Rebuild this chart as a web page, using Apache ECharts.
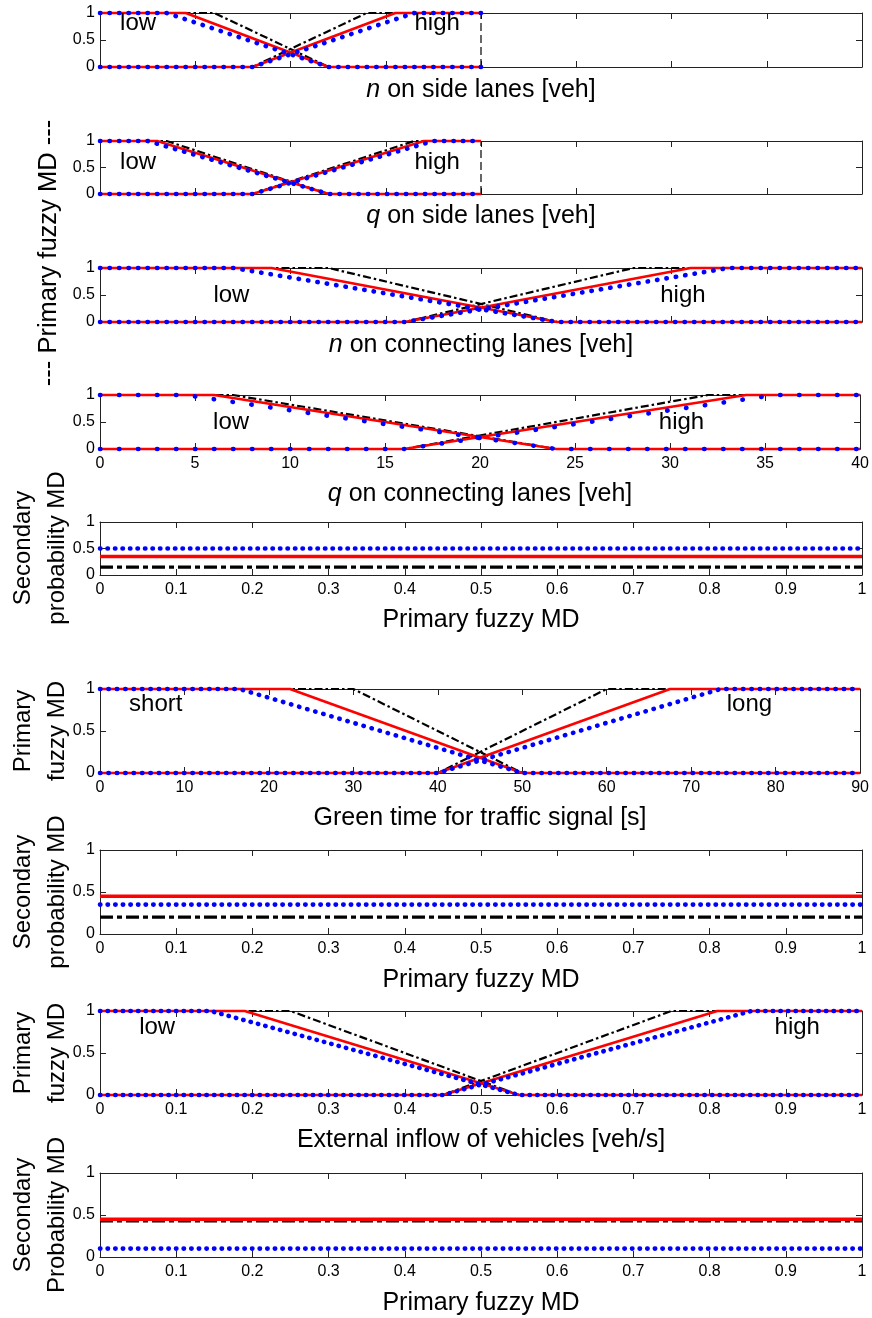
<!DOCTYPE html>
<html>
<head>
<meta charset="utf-8">
<script src="https://cdn.jsdelivr.net/npm/echarts@6/dist/echarts.min.js"></script>
<style>
  html, body { margin: 0; padding: 0; background: #fff; }
  #chart { width: 872px; height: 1318px; }
</style>
</head>
<body>
<div id="chart"></div>
<script>
// ---- membership functions: breakpoints as [x, membership degree] ----
// n on side lanes [veh]
const nSideLowBlack  = [[0, 1], [6, 1], [12, 0], [20, 0]];
const nSideHighBlack = [[0, 0], [8, 0], [14, 1], [20, 1]];
const nSideLowRed    = [[0, 1], [4.5, 1], [12, 0], [20, 0]];
const nSideHighRed   = [[0, 0], [8, 0], [15.5, 1], [20, 1]];
const nSideLowBlue   = [[0, 1], [3.5, 1], [12, 0], [20, 0]];
const nSideHighBlue  = [[0, 0], [8, 0], [16.5, 1], [20, 1]];

// q on side lanes [veh]
const qSideLowBlack  = [[0, 1], [3.5, 1], [12, 0], [20, 0]];
const qSideHighBlack = [[0, 0], [8, 0], [16.5, 1], [20, 1]];
const qSideLowRed    = [[0, 1], [3, 1], [12, 0], [20, 0]];
const qSideHighRed   = [[0, 0], [8, 0], [17, 1], [20, 1]];
const qSideLowBlue   = [[0, 1], [2.5, 1], [12, 0], [20, 0]];
const qSideHighBlue  = [[0, 0], [8, 0], [17.5, 1], [20, 1]];

// n on connecting lanes [veh]
const nConnLowBlack  = [[0, 1], [12, 1], [24, 0], [40, 0]];
const nConnHighBlack = [[0, 0], [16, 0], [28, 1], [40, 1]];
const nConnLowRed    = [[0, 1], [9, 1], [24, 0], [40, 0]];
const nConnHighRed   = [[0, 0], [16, 0], [31, 1], [40, 1]];
const nConnLowBlue   = [[0, 1], [7, 1], [24, 0], [40, 0]];
const nConnHighBlue  = [[0, 0], [16, 0], [33, 1], [40, 1]];

// q on connecting lanes [veh]
const qConnLowBlack  = [[0, 1], [7, 1], [24, 0], [40, 0]];
const qConnHighBlack = [[0, 0], [16, 0], [32, 1], [40, 1]];
const qConnLowRed    = [[0, 1], [6, 1], [24, 0], [40, 0]];
const qConnHighRed   = [[0, 0], [16, 0], [34, 1], [40, 1]];
const qConnLowBlue   = [[0, 1], [4.5, 1], [24, 0], [40, 0]];
const qConnHighBlue  = [[0, 0], [16, 0], [35.5, 1], [40, 1]];

// Green time for traffic signal [s]
const greenShortBlack = [[0, 1], [30, 1], [50, 0], [90, 0]];
const greenLongBlack  = [[0, 0], [40, 0], [60, 1], [90, 1]];
const greenShortRed   = [[0, 1], [22.5, 1], [50, 0], [90, 0]];
const greenLongRed    = [[0, 0], [40, 0], [67.5, 1], [90, 1]];
const greenShortBlue  = [[0, 1], [16.5, 1], [50, 0], [90, 0]];
const greenLongBlue   = [[0, 0], [40, 0], [73.5, 1], [90, 1]];

// External inflow of vehicles [veh/s]
const inflowLowBlack  = [[0, 1], [0.25, 1], [0.55, 0], [1, 0]];
const inflowHighBlack = [[0, 0], [0.45, 0], [0.75, 1], [1, 1]];
const inflowLowRed    = [[0, 1], [0.19, 1], [0.55, 0], [1, 0]];
const inflowHighRed   = [[0, 0], [0.45, 0], [0.81, 1], [1, 1]];
const inflowLowBlue   = [[0, 1], [0.145, 1], [0.55, 0], [1, 0]];
const inflowHighBlue  = [[0, 0], [0.45, 0], [0.855, 1], [1, 1]];

// secondary probability MD levels: [black, red, blue]
const secondaryTraffic = [0.15, 0.35, 0.5];
const secondaryGreen   = [0.2, 0.45, 0.35];
const secondaryInflow  = [0.43, 0.45, 0.1];

// upper end of the side-lane universe
const sideLaneLimit = 20;

// linguistic term labels: [text, x, y]
const nSideTerms   = [['low', 2.0, 0.8], ['high', 17.7, 0.8]];
const qSideTerms   = [['low', 2.0, 0.6], ['high', 17.7, 0.6]];
const nConnTerms   = [['low', 6.9, 0.5], ['high', 30.6, 0.5]];
const qConnTerms   = [['low', 6.9, 0.5], ['high', 30.6, 0.5]];
const greenTerms   = [['short', 6.6, 0.82], ['long', 76.9, 0.82]];
const inflowTerms  = [['low', 0.075, 0.81], ['high', 0.915, 0.81]];

// ---- styling ----
const FONT = '"Liberation Sans", Arial, Helvetica, sans-serif';
const INK = '#000';

function blackStyle(thick) {
  return thick
    ? { color: INK, width: 3.3, type: [13, 4, 5, 4] }
    : { color: INK, width: 2.2, type: [8, 3, 2.5, 3] };
}
function redStyle(thick) {
  return { color: '#ff0000', width: thick ? 3.5 : 2.7, type: 'solid' };
}
function blueStyle(step) {
  return { color: '#0000ff', width: 4.6, type: [0.4, step - 0.4], cap: 'round' };
}

const flat = v => [[0, v], [1, v]];

// ---- panel layout ----
const panels = [
  { top: 13, height: 54, xMax: 40, xInt: 5, labels: false, gap: 11,
    name: '{i|n} on side lanes [veh]', dot: 9.5, thick: false, limit: sideLaneLimit,
    black: [nSideLowBlack, nSideHighBlack], red: [nSideLowRed, nSideHighRed],
    blue: [nSideLowBlue, nSideHighBlue], terms: nSideTerms },
  { top: 141, height: 53, xMax: 40, xInt: 5, labels: false, gap: 10,
    name: '{i|q} on side lanes [veh]', dot: 9.5, thick: false, limit: sideLaneLimit,
    black: [qSideLowBlack, qSideHighBlack], red: [qSideLowRed, qSideHighRed],
    blue: [qSideLowBlue, qSideHighBlue], terms: qSideTerms },
  { top: 268, height: 54, xMax: 40, xInt: 5, labels: false, gap: 11,
    name: '{i|n} on connecting lanes [veh]', dot: 9.5, thick: false,
    black: [nConnLowBlack, nConnHighBlack], red: [nConnLowRed, nConnHighRed],
    blue: [nConnLowBlue, nConnHighBlue], terms: nConnTerms },
  { top: 395, height: 54, xMax: 40, xInt: 5, labels: true, gap: 33,
    name: '{i|q} on connecting lanes [veh]', dot: 19, thick: false,
    black: [qConnLowBlack, qConnHighBlack], red: [qConnLowRed, qConnHighRed],
    blue: [qConnLowBlue, qConnHighBlue], terms: qConnTerms },
  { top: 522, height: 53, xMax: 1, xInt: 0.1, labels: true, gap: 33,
    name: 'Primary fuzzy MD', dot: 7.5, thick: true,
    black: [flat(secondaryTraffic[0])], red: [flat(secondaryTraffic[1])],
    blue: [flat(secondaryTraffic[2])], terms: [] },
  { top: 689, height: 84, xMax: 90, xInt: 10, labels: true, gap: 33,
    name: 'Green time for traffic signal [s]', dot: 8.4, thick: false,
    black: [greenShortBlack, greenLongBlack], red: [greenShortRed, greenLongRed],
    blue: [greenShortBlue, greenLongBlue], terms: greenTerms },
  { top: 850, height: 84, xMax: 1, xInt: 0.1, labels: true, gap: 34,
    name: 'Primary fuzzy MD', dot: 7.6, thick: true,
    black: [flat(secondaryGreen[0])], red: [flat(secondaryGreen[1])],
    blue: [flat(secondaryGreen[2])], terms: [] },
  { top: 1011, height: 84, xMax: 1, xInt: 0.1, labels: true, gap: 33,
    name: 'External inflow of vehicles [veh/s]', dot: 7.6, thick: false,
    black: [inflowLowBlack, inflowHighBlack], red: [inflowLowRed, inflowHighRed],
    blue: [inflowLowBlue, inflowHighBlue], terms: inflowTerms },
  { top: 1173, height: 84, xMax: 1, xInt: 0.1, labels: true, gap: 34,
    name: 'Primary fuzzy MD', dot: 7.6, thick: true,
    black: [flat(secondaryInflow[0])], red: [flat(secondaryInflow[1])],
    blue: [flat(secondaryInflow[2])], terms: [] }
];

const axisLineStyle = { color: '#222', width: 1 };
const tickStyle = { show: true, inside: true, length: 6, lineStyle: { color: '#222', width: 1 } };
const labelStyle = { color: INK, fontSize: 16, fontFamily: FONT };

const grid = [], xAxis = [], yAxis = [], series = [];

panels.forEach((p, i) => {
  grid.push({ left: 100, width: 762, top: p.top, height: p.height, containLabel: false });

  const xBase = {
    gridIndex: i, type: 'value', min: 0, max: p.xMax, interval: p.xInt,
    axisLine: { show: true, onZero: false, lineStyle: axisLineStyle },
    axisTick: tickStyle, splitLine: { show: false }
  };
  xAxis.push(Object.assign({}, xBase, {
    position: 'bottom',
    axisLabel: Object.assign({ show: p.labels, margin: 7 }, labelStyle),
    name: p.name, nameLocation: 'middle', nameGap: p.gap,
    nameTextStyle: {
      color: INK, fontSize: 25, fontFamily: FONT,
      rich: { i: { fontStyle: 'italic', fontSize: 25, fontFamily: FONT, color: INK } }
    }
  }));
  xAxis.push(Object.assign({}, xBase, { position: 'top', axisLabel: { show: false } }));

  const yBase = {
    gridIndex: i, type: 'value', min: 0, max: 1, interval: 0.5,
    axisLine: { show: true, onZero: false, lineStyle: axisLineStyle },
    axisTick: tickStyle, splitLine: { show: false }
  };
  yAxis.push(Object.assign({}, yBase, {
    position: 'left',
    axisLabel: Object.assign({ show: true, margin: 5 }, labelStyle)
  }));
  yAxis.push(Object.assign({}, yBase, { position: 'right', axisLabel: { show: false } }));

  const ax = { xAxisIndex: 2 * i, yAxisIndex: 2 * i };
  const base = Object.assign({ type: 'line', symbol: 'none', silent: true, clip: false, animation: false }, ax);

  if (p.limit !== undefined) {
    series.push(Object.assign({}, base, {
      data: [[p.limit, 0], [p.limit, 1]],
      lineStyle: { color: INK, width: 1.2, type: [8, 4] }, z: 1
    }));
  }
  p.black.forEach(d => series.push(Object.assign({}, base, { data: d, lineStyle: blackStyle(p.thick), z: 2 })));
  p.red.forEach(d => series.push(Object.assign({}, base, { data: d, lineStyle: redStyle(p.thick), z: 3 })));
  p.blue.forEach(d => series.push(Object.assign({}, base, { data: d, lineStyle: blueStyle(p.dot), z: 4 })));

  if (p.terms.length) {
    series.push(Object.assign({}, ax, {
      type: 'scatter', silent: true, animation: false, symbolSize: 0,
      itemStyle: { color: INK, opacity: 1 }, z: 5,
      data: p.terms.map(t => ({ name: t[0], value: [t[1], t[2]] })),
      label: {
        show: true, position: 'inside', formatter: '{b}',
        color: INK, textBorderWidth: 0, opacity: 1,
        fontSize: 24, fontFamily: FONT
      }
    }));
  }
});

// vertical axis titles
function yTitle(text, x, y, size) {
  return {
    type: 'text', x: x, y: y, rotation: Math.PI / 2, silent: true,
    style: {
      text: text, fill: INK, font: size + 'px ' + FONT, lineHeight: 34,
      align: 'center', verticalAlign: 'middle'
    }
  };
}

const chart = echarts.init(document.getElementById('chart'), null, { renderer: 'canvas' });
chart.setOption({
  animation: false,
  backgroundColor: '#fff',
  grid, xAxis, yAxis, series,
  graphic: [
    yTitle('--- Primary fuzzy MD ---', 49, 253, 25.5),
    yTitle('Secondary\nprobability MD', 40, 548, 24),
    yTitle('Primary\nfuzzy MD', 40, 731, 24),
    yTitle('Secondary\nprobability MD', 40, 892, 24),
    yTitle('Primary\nfuzzy MD', 40, 1053, 24),
    yTitle('Secondary\nProbability MD', 40, 1215, 24)
  ]
});
</script>
</body>
</html>
